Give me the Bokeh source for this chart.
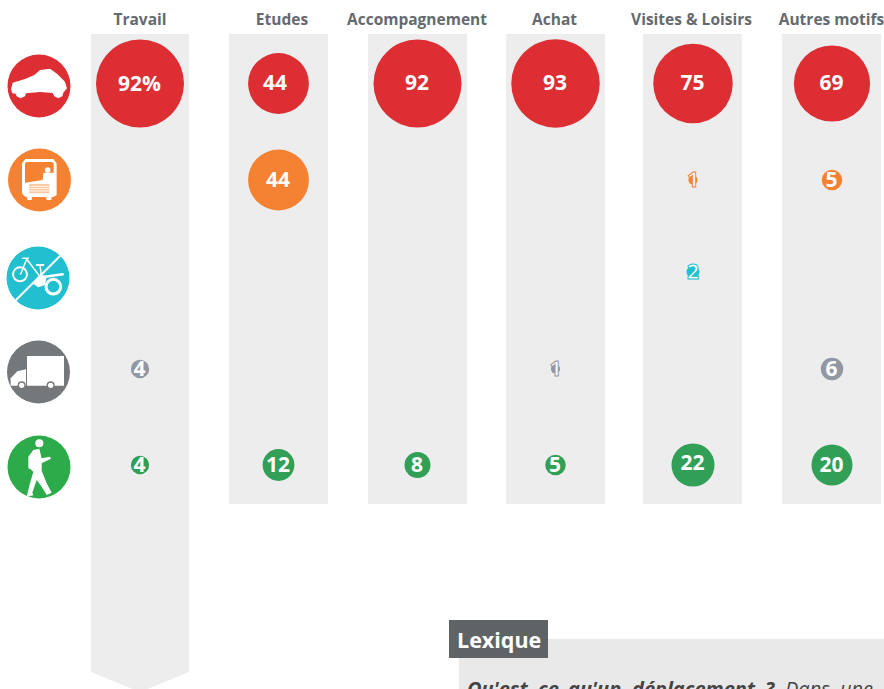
from bokeh.plotting import figure
from bokeh.models import Range1d, ColumnDataSource
from bokeh.core.properties import value
from bokeh.embed import file_html
from bokeh.resources import INLINE
import math

# ---- data ----
categories = ["Travail", "Etudes", "Accompagnement", "Achat", "Visites & Loisirs", "Autres motifs"]
voiture = [92, 44, 92, 93, 75, 69]
transports = [None, 44, None, None, 1, 5]
velo = [None, None, None, None, 2, None]
camion = [4, None, None, 1, None, 6]
marche = [4, 12, 8, 5, 22, 20]
series = [voiture, transports, velo, camion, marche]
colors = ["#DC2E33", "#F58232", "#22BFD0", "#9297A3", "#319F55"]

# ---- layout ----
W, H = 884, 689
col_x = [140, 278.5, 417.5, 555.5, 693, 832]
head_x = [140, 282, 417, 554.5, 691.5, 831.5]
col_left = [91, 229, 368, 506, 643, 782]
col_w = 99
row_y = [83.5, 180, 272, 369, 465]
K = 44 / math.sqrt(92)   # radius (px) per sqrt(value)
GREY = "#EDEDED"
FONT = "Open Sans"

p = figure(width=W, height=H, x_range=Range1d(0.5, W + 0.5), y_range=Range1d(H + 0.5, 0.5),
           output_backend="svg", toolbar_location=None, min_border=0,
           outline_line_color=None, x_axis_type=None, y_axis_type=None,
           background_fill_color="white", border_fill_color="white")
p.grid.visible = False
p.styles = {"position": "absolute", "left": "0px", "top": "0px"}

# column backgrounds
xs, ys = [], []
for i, l in enumerate(col_left):
    r = l + col_w
    if i == 0:
        xs.append([l, r - 1, r - 1, col_x[0], l])
        ys.append([34, 34, 672, 692, 672])
    else:
        xs.append([l, r, r, l])
        ys.append([34, 34, 504, 504])
p.patches(xs, ys, fill_color=GREY, line_color=None)

# headers
p.text(head_x, [18.5] * 6, text=categories, text_font=value(FONT), text_font_style="bold",
       text_font_size="15.5px", text_color="#666A6E", text_align="center", text_baseline="middle")

# bubbles
bx, by, bs, bc, lt, dx, dy_ = [], [], [], [], [], [], []
for r, vals in enumerate(series):
    for c, v in enumerate(vals):
        if v is None:
            continue
        bx.append(col_x[c]); by.append(row_y[r]); bs.append(2 * K * math.sqrt(v)); bc.append(colors[r])
        lt.append(f"{v}%" if (r == 0 and c == 0) else str(v))
        dx.append(-3.5 if (r == 0 and c == 1) else -0.5)
        dy_.append(-3 if v == 22 else -1)
p.scatter("x", "y", size="s", fill_color="c", line_color=None,
          source=ColumnDataSource(dict(x=bx, y=by, s=bs, c=bc)))
big = [i for i, s in enumerate(bs) if s >= 15]
small = [i for i, s in enumerate(bs) if s < 15]
p.text([bx[i] for i in big], [by[i] for i in big], text=[lt[i] for i in big],
       x_offset=[dx[i] for i in big], y_offset=[dy_[i] for i in big],
       text_font=value(FONT), text_font_style="bold", text_font_size="21px",
       text_color="white", text_align="center", text_baseline="middle")
p.text([bx[i] for i in small], [by[i] for i in small], text=[lt[i] for i in small], x_offset=0, y_offset=-0.5,
       text_font=value(FONT), text_font_style="bold", text_font_size="21px",
       text_color="white", outline_color=[bc[i] for i in small], text_align="center", text_baseline="middle")

# icon discs
ic_x = [39, 39.5, 38, 38.5, 39]
ic_y = [86, 180, 278, 372, 467]
ic_c = ["#DC2E33", "#F58232", "#22BFD0", "#75787B", "#2DAB4A"]
p.scatter(ic_x, ic_y, size=63, fill_color=ic_c, line_color=None)

def poly(pts, dy=0, color="white"):
    p.patch([a / 3 for a, _ in pts], [b / 3 + dy for _, b in pts], fill_color=color, line_color=None)

def line(pts, w, dy=0, color="white"):
    p.line([a / 3 for a, _ in pts], [b / 3 + dy for _, b in pts], line_color=color, line_width=w, line_cap="round")

def disc(x, y, d, dy=0, color="white"):
    p.scatter([x / 3], [y / 3 + dy], size=d / 3, fill_color=color, line_color=None)

def ring(x, y, d, w, dy=0, color="white"):
    p.scatter([x / 3], [y / 3 + dy], size=d / 3, fill_color=None, line_color=color, line_width=w)

# car
poly([(33, 268), (38, 248), (75, 237), (103, 225), (120, 210), (150, 206), (172, 222), (195, 245), (201, 265),
      (190, 278), (187, 289), (175, 295), (163, 289), (158, 279), (120, 276), (78, 280), (75, 289), (62, 295),
      (50, 289), (47, 281), (37, 280)])
# bus
poly([(66, 490), (76, 477), (160, 477), (170, 490), (170, 585), (160, 591), (155, 591), (154, 600), (140, 600),
      (138, 591), (96, 591), (95, 600), (82, 600), (81, 591), (72, 588), (66, 580)])
poly([(75, 490), (80, 486), (156, 486), (161, 490), (161, 518), (130, 518), (128, 540), (75, 548)], color="#F58232")
disc(143, 510, 17)
poly([(88, 552), (148, 552), (148, 580), (88, 580)], color="#FBC7A0")
for yy in (559, 566, 573):
    p.line([88 / 3, 148 / 3], [yy / 3, yy / 3], line_color="white", line_width=0.8)
# bike
D = 230
line([(48, 210), (180, 78)], 2, dy=D)
ring(60, 133, 42, 2, dy=D)
ring(160, 170, 44, 3, dy=D)
line([(80, 88), (62, 132)], 1.5, dy=D)
line([(68, 85), (85, 85)], 1.5, dy=D)
line([(82, 90), (120, 140)], 1.5, dy=D)
line([(120, 105), (125, 145)], 1.5, dy=D)
line([(110, 105), (130, 105)], 2, dy=D)
line([(125, 142), (188, 133)], 2.5, dy=D)
poly([(100, 162), (120, 135), (140, 138), (135, 165), (115, 172)], dy=D)
# truck
poly([(81, 378), (192, 378), (192, 467), (81, 467)], dy=D)
poly([(32, 445), (52, 424), (78, 418), (78, 467), (32, 467)], dy=D)
disc(65, 466, 24, dy=D, color="#75787B")
disc(65, 466, 16, dy=D)
disc(152, 466, 24, dy=D, color="#75787B")
disc(152, 466, 16, dy=D)
# walker
disc(118, 640, 24, dy=D)
poly([(85, 680), (100, 660), (118, 656), (125, 685), (150, 680), (153, 686), (125, 700), (125, 722), (140, 760),
      (155, 788), (140, 795), (125, 770), (110, 750), (97, 788), (100, 796), (80, 800), (90, 760), (100, 725),
      (92, 718), (85, 715)], dy=D)

# Lexique panel
p.patch([459, W + 1, W + 1, 459], [639, 639, H + 1, H + 1], fill_color="#E9E9E9", line_color=None)
p.patch([449, 548, 548, 449], [620, 620, 658, 658], fill_color="#5F6366", line_color=None)
p.text([457], [639.5], text=["Lexique"], text_font=value(FONT), text_font_style="bold", text_font_size="21.5px",
       text_color="white", text_baseline="middle")
bold_words = ["Qu'est", "ce", "qu'un", "déplacement", "?"]
bold_x = [467, 538, 568, 632, 765]
ital_words = ["Dans", "une"]
ital_x = [785, 840]
p.text(bold_x, [688] * 5, text=bold_words, text_font=value(FONT), text_font_style="bold italic",
       text_font_size="20px", text_color="#444444", text_baseline="middle")
p.text(ital_x, [688] * 2, text=ital_words, text_font=value(FONT), text_font_style="italic",
       text_font_size="20px", text_color="#444444", text_baseline="middle")

open("out.html", "w").write(file_html(p, INLINE))
